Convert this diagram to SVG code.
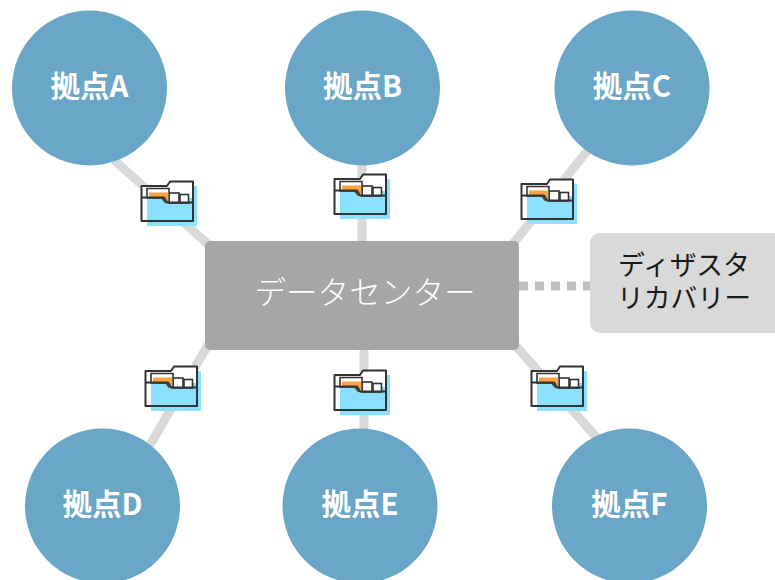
<svg xmlns="http://www.w3.org/2000/svg" width="775" height="580" viewBox="0 0 775 580">
<style>
.hub{fill:#6aa6c7}
.lbl{font-family:"Noto Sans CJK JP","Noto Sans",sans-serif;font-weight:700;font-size:29.500px;fill:#fff;text-anchor:middle}
.rec{font-family:"Noto Sans CJK JP","Noto Sans",sans-serif;font-size:26.800px;fill:#1a1a1a;text-anchor:middle}
.link{stroke:#d9d9d9;stroke-width:9;fill:none}
.dash{stroke:#bfbfbf;stroke-width:9;stroke-dasharray:9 7;fill:none}
.ol{fill:none;stroke:#333;stroke-width:2;stroke-linejoin:round}
.pp{fill:#fff;stroke:#333;stroke-width:1.600}
</style>
<defs>
<g id="folder">
<rect x="6" y="5" width="50" height="40" fill="#8be0ff"/>
<path d="M1 5H26L29 0H52V17H1Z" fill="#fff"/>
<rect x="39" y="13.500" width="8.500" height="8.500" class="pp"/>
<rect x="28" y="12" width="10" height="10" class="pp"/>
<path d="M6 17V7.500H28V21H24L21 17Z" class="pp"/>
<path d="M8 11.500H27.200V21H24.500L21.500 16H8Z" fill="#f9a440"/>
<path d="M0.500 5H26L29 0.500H52V40H0.500Z" class="ol"/>
<path d="M0.500 16.500H23L26 21.500H52" class="ol"/>
</g>
</defs>
<g id="connectors">
<path class="link" d="M114 160L210 246M362 165V241M588 150L512 245M208 345L150 445M364 350V430M516 346L597 438"/>
<path class="dash" d="M519 286H590"/>
</g>
<g id="folders">
<use href="#folder" x="141" y="181"/>
<use href="#folder" x="334" y="174"/>
<use href="#folder" x="521" y="179"/>
<use href="#folder" x="145" y="366"/>
<use href="#folder" x="334" y="370"/>
<use href="#folder" x="531" y="366"/>
</g>
<g id="datacenter">
<rect x="205" y="241" width="314" height="109" rx="5" fill="#a6a6a6"/>
<text x="365" y="304" font-family="'Noto Sans CJK JP','Noto Sans',sans-serif" font-size="31.600" font-weight="300" fill="#fff" text-anchor="middle">データセンター</text>
</g>
<g id="recovery">
<rect x="590" y="233" width="195" height="100" rx="10" fill="#d9d9d9"/>
<text class="rec" x="684" y="275">ディザスタ</text>
<text class="rec" x="684" y="308">リカバリー</text>
</g>
<g id="siteA"><circle class="hub" cx="89.500" cy="88" r="77.500"/><text class="lbl" x="89.500" y="97">拠点A</text></g>
<g id="siteB"><circle class="hub" cx="362.500" cy="88" r="77.500"/><text class="lbl" x="362.500" y="97">拠点B</text></g>
<g id="siteC"><circle class="hub" cx="632" cy="88" r="77.500"/><text class="lbl" x="632" y="97">拠点C</text></g>
<g id="siteD"><circle class="hub" cx="102.500" cy="506" r="77.500"/><text class="lbl" x="102.500" y="515">拠点D</text></g>
<g id="siteE"><circle class="hub" cx="360" cy="506" r="77.500"/><text class="lbl" x="360" y="515">拠点E</text></g>
<g id="siteF"><circle class="hub" cx="629.500" cy="506" r="77.500"/><text class="lbl" x="629.500" y="515">拠点F</text></g>
</svg>
